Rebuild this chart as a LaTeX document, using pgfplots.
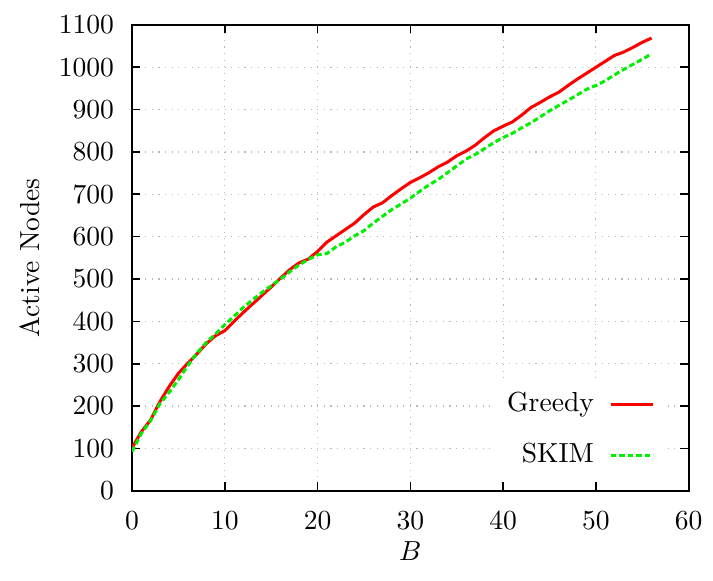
\documentclass[border=0pt]{standalone}
\usepackage{pgfplots}
\pgfplotsset{compat=1.18}
\definecolor{gpred}{RGB}{255,0,0}
\definecolor{gpgreen}{RGB}{0,238,0}

\pgfplotstableread{
B greedy skim
0 101 92
1 139 135
2 167 165
3 210 205
4 246 232
5 277 262
6 301 295
7 323 325
8 347 350
9 366 370
10 378 392
11 400 412
12 421 433
13 441 451
14 461 468
15 481 484
16 502 500
17 522 517
18 538 533
19 547 546
20 565 557
21 587 560
22 602 576
23 617 587
24 632 602
25 652 614
26 670 632
27 680 648
28 697 664
29 713 677
30 728 691
31 739 707
32 751 722
33 765 735
34 776 751
35 791 767
36 802 783
37 816 794
38 834 808
39 850 822
40 861 834
41 871 844
42 887 857
43 905 869
44 917 883
45 930 897
46 941 910
47 957 922
48 972 935
49 986 948
50 1000 957
51 1014 968
52 1028 982
53 1036 995
54 1047 1007
55 1059 1019
56 1069 1032
}\datatable

\begin{document}
\begin{tikzpicture}
\begin{axis}[
    scale only axis,
    width=202pt, height=169pt,
    xmin=0, xmax=60, ymin=0, ymax=1100,
    xtick={0,10,...,60},
    ytick={0,100,...,1100},
    /pgf/number format/1000 sep={},
    xlabel={$B$},
    ylabel={Active Nodes},
    tick align=inside,
    major tick length=3pt,
    tick style={black, line width=0.6pt},
    axis line style={line width=0.8pt},
    grid=major,
    grid style={gray!55, dotted, line width=0.4pt},
    xticklabel style={yshift=-4pt},
    yticklabel style={xshift=-3pt},
    xlabel style={yshift=2.5pt},
    ylabel style={yshift=0pt},
    legend cell align=right,
    legend plot pos=right,
    legend style={draw=none, fill=white, at={(rel axis cs:0.955,0.02)},
        anchor=south east, row sep=6pt, inner sep=3pt},
    legend image code/.code={\path (0pt,0pt); \draw[#1] (3.5pt,0pt) -- (19pt,0pt);},
]
\addplot[gpred, line width=1.1pt] table[x=B, y=greedy] {\datatable};
\addlegendentry{Greedy}
\addplot[gpgreen, line width=1.1pt, dash pattern=on 2pt off 1.1pt] table[x=B, y=skim] {\datatable};
\addlegendentry{SKIM}
\end{axis}
\path ([xshift=-3.9pt,yshift=2.5pt]current bounding box.north west)
      ([xshift=0.5pt,yshift=-4.2pt]current bounding box.south east);
\end{tikzpicture}
\end{document}
